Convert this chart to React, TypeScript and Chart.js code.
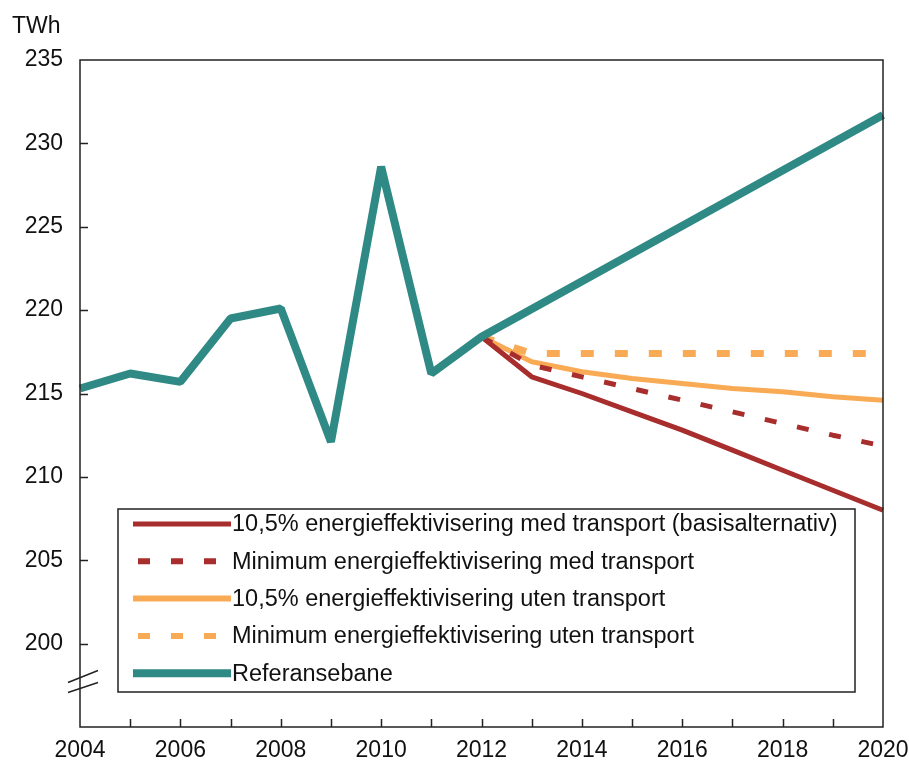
import React, { useEffect, useRef } from "react";
import { Chart, registerables } from "chart.js";

Chart.register(...registerables);

const years = ["2004","2005","2006","2007","2008","2009","2010","2011","2012","2013","2014","2015","2016","2017","2018","2019","2020"];

const referansebane = [215.3, 216.2, 215.7, 219.5, 220.1, 212.1, 228.6, 216.2, 218.4, null, null, null, null, null, null, null, 231.7];
const effMedTransport = [null, null, null, null, null, null, null, null, 218.4, 216.0, 215.0, 213.9, 212.8, 211.6, 210.4, 209.2, 208.0];
const minMedTransport = [null, null, null, null, null, null, null, null, 218.4, 216.7, 216.0, 215.3, 214.6, 213.9, 213.2, 212.5, 211.85];
const effUtenTransport = [null, null, null, null, null, null, null, null, 218.4, 216.9, 216.3, 215.9, 215.6, 215.3, 215.1, 214.8, 214.6];
const minUtenTransport = [null, null, null, null, null, null, null, null, 218.4, 217.4, 217.4, 217.4, 217.4, 217.4, 217.4, 217.4, 217.4];

const seriesLabels = [
  "10,5% energieffektivisering med transport (basisalternativ)",
  "Minimum energieffektivisering med transport",
  "10,5% energieffektivisering uten transport",
  "Minimum energieffektivisering uten transport",
  "Referansebane",
];

const yTickValues = [195, 200, 205, 210, 215, 220, 225, 230, 235];
const unitLabel = "TWh";
const axisBreakValue = 197.7;

const RED = "#a82e2e";
const ORANGE = "#f9aa55";
const TEAL = "#2f8985";
const FONT = "'Liberation Sans', Arial, sans-serif";
const TEXT = "#111";

const decorPlugin = {
  id: "decor",
  afterDatasetsDraw(chart: any) {
    const { ctx, chartArea, scales } = chart;
    const { left, right, top, bottom } = chartArea;
    const x = scales.x;
    const y = scales.y;
    ctx.save();
    ctx.strokeStyle = "#222";
    ctx.lineWidth = 1.5;
    ctx.setLineDash([]);
    ctx.strokeRect(left, top, right - left, bottom - top);
    yTickValues.forEach((v) => {
      if (v <= 195 || v >= 235) return;
      const py = Math.round(y.getPixelForValue(v)) + 0.5;
      ctx.beginPath();
      ctx.moveTo(left, py);
      ctx.lineTo(left + 8, py);
      ctx.stroke();
    });
    for (let i = 1; i < years.length - 1; i++) {
      const px = Math.round(x.getPixelForValue(i)) + 0.5;
      ctx.beginPath();
      ctx.moveTo(px, bottom);
      ctx.lineTo(px, bottom - 8);
      ctx.stroke();
    }
    const pb = y.getPixelForValue(axisBreakValue);
    ctx.beginPath();
    ctx.moveTo(left - 12, pb + 0.5);
    ctx.lineTo(left + 18, pb - 11.5);
    ctx.moveTo(left - 12, pb + 10.5);
    ctx.lineTo(left + 18, pb + 0.5);
    ctx.stroke();

    // legend
    const lx = 118, ly = 509, lw = 737, lh = 183;
    ctx.fillStyle = "#fff";
    ctx.fillRect(lx, ly, lw, lh);
    ctx.strokeStyle = "#222";
    ctx.lineWidth = 1.5;
    ctx.strokeRect(lx, ly, lw, lh);
    const ds = chart.data.datasets;
    ds.forEach((d: any, i: number) => {
      const ry = 524 + i * 37.3;
      ctx.strokeStyle = d.borderColor;
      ctx.lineWidth = d.legendWidth;
      ctx.lineCap = "butt";
      ctx.beginPath();
      if (d.borderDash && d.borderDash.length) {
        ctx.setLineDash([12, 21]);
        ctx.moveTo(138, ry);
        ctx.lineTo(230, ry);
      } else {
        ctx.setLineDash([]);
        ctx.moveTo(133, ry);
        ctx.lineTo(231, ry);
      }
      ctx.stroke();
      ctx.setLineDash([]);
      ctx.fillStyle = TEXT;
      ctx.font = `23.5px ${FONT}`;
      ctx.textAlign = "left";
      ctx.textBaseline = "middle";
      ctx.fillText(d.label, 232, ry + 1);
    });

    ctx.fillStyle = TEXT;
    ctx.font = `23px ${FONT}`;
    ctx.textAlign = "left";
    ctx.textBaseline = "alphabetic";
    ctx.fillText(unitLabel, 12, 33);
    ctx.restore();
  },
};

export default function App() {
  const ref = useRef<HTMLCanvasElement | null>(null);
  useEffect(() => {
    document.body.style.margin = "0";
    const canvas = ref.current;
    if (!canvas) return;
    const chart = new Chart(canvas, {
      type: "line",
      data: {
        labels: years,
        datasets: [
          { label: seriesLabels[0], data: effMedTransport, borderColor: RED, borderWidth: 5, legendWidth: 5, order: 1 } as any,
          { label: seriesLabels[1], data: minMedTransport, borderColor: RED, borderWidth: 5, borderDash: [12, 21], legendWidth: 6, order: 1 } as any,
          { label: seriesLabels[2], data: effUtenTransport, borderColor: ORANGE, borderWidth: 5, legendWidth: 6, order: 1 } as any,
          { label: seriesLabels[3], data: minUtenTransport, borderColor: ORANGE, borderWidth: 7, borderDash: [13, 21], legendWidth: 6, order: 1 } as any,
          { label: seriesLabels[4], data: referansebane, borderColor: TEAL, borderWidth: 8, legendWidth: 8, order: 0 } as any,
        ],
      },
      options: {
        animation: false,
        responsive: false,
        spanGaps: true,
        elements: {
          point: { radius: 0, hoverRadius: 0 },
          line: { tension: 0, fill: false, borderJoinStyle: "bevel" },
        },
        layout: { padding: { top: 60, right: 26, left: 0, bottom: 0 } },
        plugins: { legend: { display: false }, tooltip: { enabled: false } },
        scales: {
          x: {
            type: "category",
            offset: false,
            grid: { display: false, drawTicks: false },
            border: { display: false },
            afterFit: (s: any) => { s.height = 35; s.paddingRight = 0; s.paddingLeft = 0; },
            ticks: {
              autoSkip: false,
              maxRotation: 0,
              padding: 10,
              color: TEXT,
              font: { family: FONT, size: 23 },
              callback: (_v: any, i: number) => (Number(years[i]) % 2 === 0 ? years[i] : ""),
            },
          },
          y: {
            type: "linear",
            min: 195,
            max: 235,
            grid: { display: false, drawTicks: false },
            border: { display: false },
            afterFit: (s: any) => { s.width = 80; s.paddingTop = 0; s.paddingBottom = 0; },
            afterBuildTicks: (s: any) => { s.ticks = yTickValues.map((v) => ({ value: v })); },
            ticks: {
              padding: 17,
              color: TEXT,
              font: { family: FONT, size: 23 },
              callback: (v: any) => (v === 195 ? "" : String(v)),
            },
          },
        },
      } as any,
      plugins: [decorPlugin],
    });
    return () => chart.destroy();
  }, []);
  return (
    <div style={{ width: 909, height: 762, background: "#fff" }}>
      <canvas ref={ref} width={909} height={762} style={{ display: "block" }} />
    </div>
  );
}
